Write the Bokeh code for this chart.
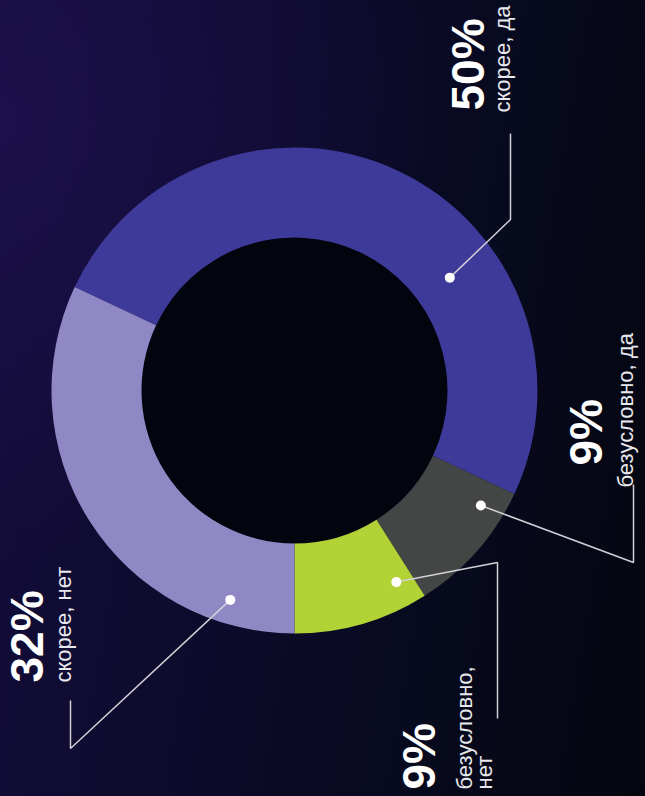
import numpy as np
from bokeh.plotting import figure
from bokeh.models import ColumnDataSource, Range1d
from bokeh.core.properties import value
from bokeh.embed import file_html
from bokeh.resources import INLINE

# ---- data ----
categories = ["скорее, да", "безусловно, да", "безусловно, нет", "скорее, нет"]
label_texts = ["скорее, да", "безусловно, да", "безусловно,\nнет", "скорее, нет"]
percent = [50, 9, 9, 32]
colors = ["#3e3a99", "#444646", "#b3d236", "#8f88c4"]

# ---- layout (reference pixel space, y measured from top) ----
W, H = 645, 796


def Y(ys):
    return H - np.asarray(ys, float)


CX, CY = 294.0, float(Y(390))
R_OUT, R_IN = 243, 153
THETA0 = np.deg2rad(154.8)           # rotation of the first slice start

dot_frac = [0.66, 0.20, 0.136, 0.148]  # where the dot sits inside each slice
dot_r = [192, 219, 217, 219]
elbows = [(510, 219), (633, 562), (497, 562), (70, 748)]
line_ends = [(510, 133), (633, 484), (497, 718), (70, 700)]

PCT_FS, TXT_FS = 46, 22
K = 0.40                              # renderer baseline shift (fraction of font size)
pct_base = [(486, 110), (604, 465), (437, 789), (45, 682)]   # baseline x, start y
txt_base = [(511, 112), (634, 487), (473, 789), (72, 682)]
LINE_STEP = 20

vals = np.array(percent, float)
frac = vals / vals.sum()
cum = np.concatenate([[0], np.cumsum(frac)])
starts = THETA0 - 2 * np.pi * cum[:-1]
ends = THETA0 - 2 * np.pi * cum[1:]

wedges = ColumnDataSource(dict(
    x=[CX] * len(vals), y=[CY] * len(vals),
    start=ends, end=starts, color=colors, cat=categories,
))

dot_ang = starts - np.array(dot_frac) * (starts - ends)
dx = CX + np.array(dot_r) * np.cos(dot_ang)
dy = CY + np.array(dot_r) * np.sin(dot_ang)

lxs = [[dx[i], elbows[i][0], line_ends[i][0]] for i in range(len(vals))]
lys = [[dy[i], float(Y(elbows[i][1])), float(Y(line_ends[i][1]))] for i in range(len(vals))]

p = figure(width=W, height=H, output_backend="svg", toolbar_location=None,
           x_range=Range1d(0, W), y_range=Range1d(0, H), min_border=0)
p.axis.visible = False
p.grid.visible = False
p.outline_line_color = None
p.background_fill_alpha = 0
p.border_fill_alpha = 0

# hole
p.circle(x=[CX], y=[CY], radius=R_IN, fill_color="#03050e", line_color=None)
p.annular_wedge(x="x", y="y", inner_radius=R_IN, outer_radius=R_OUT,
                start_angle="start", end_angle="end", fill_color="color",
                line_color=None, source=wedges)

p.multi_line(xs=lxs, ys=lys, line_color="#d0d0d6", line_width=1.5)
p.scatter(x=dx, y=dy, size=10, fill_color="white", line_color=None)

p.text(x=[q[0] - K * PCT_FS for q in pct_base], y=list(Y([q[1] for q in pct_base])),
       text=[f"{v}%" for v in percent], angle=np.pi / 2,
       text_font=value("Liberation Sans"), text_font_style="bold",
       text_font_size=f"{PCT_FS}px", text_color="white",
       text_align="left", text_baseline="alphabetic")

tx, ty, tt = [], [], []
for (bx, by), lab in zip(txt_base, label_texts):
    for j, line in enumerate(lab.split("\n")):
        tx.append(bx + j * LINE_STEP - K * TXT_FS)
        ty.append(float(Y(by)))
        tt.append(line)
p.text(x=tx, y=ty, text=tt, angle=np.pi / 2,
       text_font=value("Liberation Sans"), text_font_size=f"{TXT_FS}px",
       text_color="#e8e8ee", text_align="left", text_baseline="alphabetic")

html = file_html(p, INLINE, title="donut")
css = ("<style>html,body{margin:0;background:"
       "radial-gradient(ellipse 70% 55% at 0% 15%, rgba(40,20,100,0.42), rgba(40,20,100,0) 100%),"
       "linear-gradient(100deg, #140d3c 0%, #0e0b2e 35%, #080a20 65%, #04060f 100%);"
       "min-height:100%;}</style></head>")
html = html.replace("</head>", css, 1)
open("out.html", "w").write(html)
